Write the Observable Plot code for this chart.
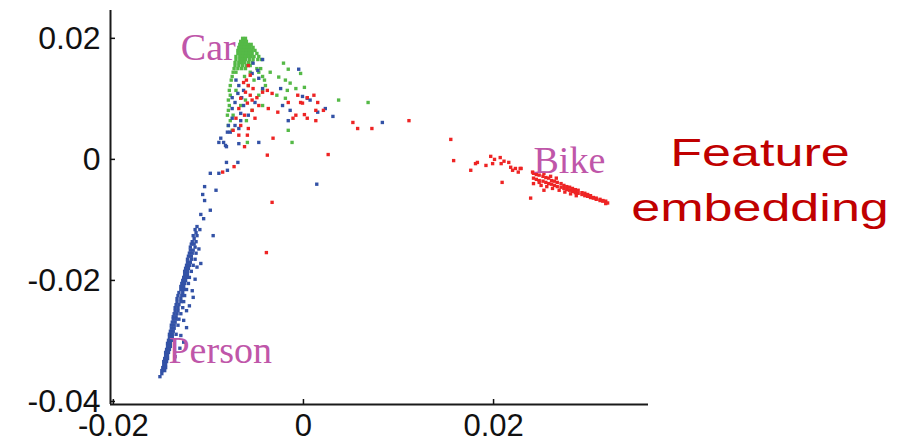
<!DOCTYPE html>
<html><head><meta charset="utf-8">
<script src="https://cdn.jsdelivr.net/npm/d3@7"></script>
<script src="https://cdn.jsdelivr.net/npm/@observablehq/plot@0.6"></script>
<style>
body{margin:0;background:#fff;}
#wrap{position:relative;width:909px;height:442px;}
#note{position:absolute;left:560px;width:400px;top:126px;text-align:center;font-family:"Liberation Sans",Arial,sans-serif;font-size:38px;line-height:55px;color:#c00000;transform:scaleX(1.37);transform-origin:center;z-index:2;}
</style></head><body>
<div id="wrap"><div id="note">Feature<br>embedding</div></div>
<script>
// All coordinates in units of 1e-3 (tick labels show the real values)
const xTicks = [-20, 0, 20];
const yTicks = [-40, -20, 0, 20];
const xDomain = [-20.3, 36.3];
const yDomain = [-40.5, 24.6];

const labelNames = ["Car", "Person", "Bike"];
const labelX = [-12.9, -14.2, 24.2];
const labelY = [16.5, -33.6, -2.3];

const carPts = [
[-6.4,20.0],[-6.1,20.0],
[-6.6,19.5],[-6.3,19.5],[-6.0,19.5],
[-6.7,19.0],[-6.4,19.0],[-6.1,19.0],[-5.8,19.0],[-5.5,19.0],
[-6.8,18.5],[-6.5,18.5],[-6.2,18.5],[-5.9,18.5],[-5.6,18.5],[-5.3,18.5],
[-6.9,18.0],[-6.6,18.0],[-6.3,18.0],[-6.0,18.0],[-5.7,18.0],[-5.4,18.0],[-5.1,18.0],
[-6.9,17.5],[-6.6,17.5],[-6.3,17.5],[-6.0,17.5],[-5.7,17.5],[-5.4,17.5],[-4.9,17.5],
[-7.1,17.0],[-6.7,17.0],[-6.4,17.0],[-6.1,17.0],[-5.8,17.0],[-5.5,17.0],[-5.2,17.0],[-4.7,17.0],
[-7.1,16.5],[-6.7,16.5],[-6.4,16.5],[-6.1,16.5],[-5.7,16.5],[-5.3,16.5],[-4.8,16.5],[-4.4,16.5],
[-7.2,16.0],[-6.8,16.0],[-6.5,16.0],[-6.2,16.0],[-5.8,16.0],[-5.4,16.0],
[-7.2,15.5],[-6.8,15.5],[-6.4,15.5],[-6.0,15.5],[-5.6,15.5],
[-7.3,15.0],[-6.9,15.0],[-6.5,15.0],[-6.1,15.0],[-4.9,15.0],[-4.5,15.0],
[-7.4,14.4],[-7.1,14.4],[-5.6,14.4],[-4.7,14.4],
[-7.5,13.7],[-6.2,13.7],[-4.3,13.7],
[-7.6,13.1],[-5.2,13.1],[-4.1,13.1],
[-7.7,12.2],[-5.8,12.2],
[-7.8,11.4],[-7.1,11.4],[-4.3,11.4],
[-7.7,10.6],[-4.7,10.6],
[-7.9,9.8],[-6.1,9.8],
[-7.8,8.9],[-6.6,8.9],[-4.3,8.9],
[-7.9,8.1],[-5.4,8.1],
[-8.0,7.3],[-7.4,7.3],
[-7.7,6.4],[-6.0,6.4],
[-7.9,5.6],[-7.5,4.8],
[-2.1,15.9],[-1.6,14.9],[-0.3,14.2],[-2.6,13.6],[-1.9,13.1],[-1.4,12.6],[-1.7,11.4],[-0.8,11.7],
[-1.9,10.1],[0.1,11.9],[-1.6,4.8],[-1.2,2.8],[-5.9,2.8],[3.7,9.8],[6.8,9.4],[-3.5,14.4],[-4.0,12.2],[-2.8,10.6]
];

const personPts = [
[-4.3,16.5],[-5.3,15.9],[-4.8,14.7],[-5.4,14.2],[-4.7,13.4],[-6.8,12.2],[-6.3,11.4],[-4.3,11.7],
[-6.9,10.9],[-7.5,10.2],[-7.2,9.4],[-6.3,8.9],[-5.1,9.4],[-7.5,8.4],[-6.6,7.6],[-5.8,7.3],
[-7.5,6.8],[-6.6,6.4],[-7.9,5.6],[-7.2,5.6],[-6.8,5.1],[-7.7,4.5],[-7.1,13.1],[-6.5,10.2],
[-0.5,14.9],[-2.4,11.7],[0.7,9.8],[-2.2,8.9],[-1.4,8.1],[-1.6,6.4],[1.5,7.8],[2.3,8.4],
[-0.1,10.4],[0.4,10.1],[3.1,7.1],[8.3,6.1],[1.4,-4.1],
[-8.7,3.5],[-8.2,2.3],[-6.8,2.6],[-4.7,2.8],[-8.0,4.5],[-8.9,2.8],[-8.4,2.8],[-8.1,2.1],
[-8.1,-0.5],[-6.9,-0.5],[-9.8,-2.3],[-8.9,-2.3],[-8.0,-1.8],[-10.4,-4.5],[-9.2,-5.1],
[-10.6,-5.8],[-10.4,-6.8],[-10.8,-9.1],[-9.8,-8.4],[-9.5,-12.6],[-10.8,-17.2],[-10.5,-9.8],
[-11.2,-11.1],
[-11.4,-11.6],[-10.9,-11.6],
[-11.3,-12.1],
[-11.6,-12.6],[-11.2,-12.6],
[-11.5,-13.1],
[-11.7,-13.6],[-11.3,-13.6],
[-11.8,-14.0],[-11.5,-14.0],
[-11.9,-14.5],[-11.4,-14.5],
[-11.9,-15.0],[-11.6,-15.0],
[-12.0,-15.5],[-11.7,-15.5],[-11.3,-15.5],
[-12.1,-16.0],[-11.8,-16.0],
[-12.2,-16.5],[-11.8,-16.5],[-11.4,-16.5],
[-12.2,-17.0],[-11.9,-17.0],
[-12.3,-17.5],[-12.0,-17.5],[-11.6,-17.5],
[-12.4,-18.0],[-12.1,-18.0],
[-12.5,-18.5],[-12.2,-18.5],[-11.8,-18.5],
[-12.5,-19.0],[-12.2,-19.0],
[-12.6,-19.5],[-12.3,-19.5],[-12.0,-19.5],
[-12.7,-20.0],[-12.4,-20.0],
[-12.8,-20.5],[-12.5,-20.5],[-12.1,-20.5],
[-12.9,-21.0],[-12.6,-21.0],
[-12.9,-21.5],[-12.6,-21.5],[-12.3,-21.5],
[-13.1,-22.0],[-12.7,-22.0],
[-13.2,-22.5],[-12.8,-22.5],[-12.5,-22.5],
[-13.3,-23.0],[-12.9,-23.0],
[-13.3,-23.5],[-12.9,-23.5],[-12.6,-23.5],
[-13.4,-24.0],[-13.1,-24.0],
[-13.5,-24.5],[-13.2,-24.5],[-12.7,-24.5],
[-13.5,-25.0],[-13.2,-25.0],
[-13.6,-25.5],[-13.3,-25.5],[-12.9,-25.5],
[-13.7,-26.0],[-13.4,-26.0],
[-13.7,-26.4],[-13.4,-26.4],[-13.1,-26.4],
[-13.8,-26.9],[-13.5,-26.9],
[-13.9,-27.4],[-13.6,-27.4],[-13.2,-27.4],
[-13.9,-27.9],[-13.6,-27.9],
[-14.0,-28.4],[-13.7,-28.4],
[-14.1,-28.9],[-13.8,-28.9],[-13.4,-28.9],
[-14.1,-29.4],[-13.8,-29.4],
[-14.2,-29.9],[-13.9,-29.9],
[-14.3,-30.4],[-14.0,-30.4],
[-14.3,-30.9],[-14.0,-30.9],
[-14.4,-31.4],[-14.1,-31.4],
[-14.5,-31.9],[-14.2,-31.9],
[-14.5,-32.4],[-14.3,-32.4],
[-14.6,-32.9],[-14.3,-32.9],
[-14.7,-33.4],[-14.4,-33.4],
[-14.7,-33.9],[-14.5,-33.9],
[-14.8,-34.4],[-14.5,-34.4],
[-14.9,-34.9],[-14.6,-34.9],
[-14.9,-35.4],[-15.1,-35.9],
[-11.7,-21.7],[-12.3,-25.0],[-12.6,-26.6],[-12.9,-29.1],
[-11.0,-14.8],[-11.2,-17.8],[-11.4,-19.8],[-11.6,-22.8],[-12.0,-24.2],[-12.3,-27.8],[-12.6,-30.2],[-13.0,-31.2],[-13.5,-32.6]
];

const bikePts = [
[-5.8,15.5],[-5.6,13.9],[-6.3,12.7],[-5.8,12.2],[-5.3,11.7],[-6.1,11.1],[-5.6,10.6],[-6.6,10.1],
[-4.9,10.2],[-5.9,9.3],[-6.8,8.4],[-5.4,8.1],[-6.2,7.3],[-7.1,6.8],[-5.1,6.8],[-6.6,5.6],
[-5.8,5.1],[-7.4,4.8],[-4.3,11.1],[-4.7,8.9],[-6.0,13.1],[-5.4,9.8],
[-3.8,11.4],[-3.3,10.9],[-0.6,10.6],[0.4,10.2],[1.5,9.4],[-1.6,9.4],[-0.3,9.4],[-3.7,8.4],
[-2.7,7.8],[-0.8,7.3],[-1.1,6.8],[0.4,6.8],[1.3,6.4],[-6.8,4.0],[-5.9,4.0],[1.1,10.6],
[1.3,8.1],[-3.2,3.5],[-3.8,0.7],[-8.5,-2.1],[-7.3,-1.2],[-3.3,-7.1],[-0.1,9.3],[0.1,7.4],
[2.1,8.1],[5.2,6.1],[5.7,5.1],[7.2,5.1],[11.1,6.4],[2.6,0.8],[-3.9,-15.4],[-6.2,2.1],
[15.5,3.3],[15.8,-0.2],[17.6,-1.8],[18.1,-0.7],[18.3,-0.5],[19.2,-1.0],[19.7,0.5],[19.9,-0.7],
[20.1,0.0],[20.7,0.3],[20.8,-0.7],[21.1,-0.3],[21.6,-0.5],[21.8,-1.3],[22.3,-1.5],[22.6,-2.1],
[22.9,-1.5],[22.0,-1.8],[20.9,-3.8],
[22.8,-1.5],[24.1,-2.1],[24.2,-4.0],[25.3,-5.1],[23.9,-6.4],
[24.2,-2.3],[24.2,-3.1],
[24.5,-2.5],[24.5,-3.3],
[24.8,-2.6],[24.8,-3.5],[24.8,-3.8],
[25.2,-2.8],[25.2,-3.6],
[25.5,-3.0],[25.5,-3.8],
[25.8,-3.1],[25.8,-4.0],
[26.1,-3.5],[26.1,-4.1],
[26.4,-3.6],[26.4,-4.3],
[26.7,-3.8],[26.7,-4.5],
[27.1,-4.0],[27.1,-4.6],
[27.4,-4.3],[27.4,-4.8],
[27.7,-4.5],[27.7,-5.0],
[28.0,-4.6],[28.0,-5.1],
[28.3,-4.8],[28.3,-5.3],
[28.6,-5.0],[28.6,-5.5],
[28.9,-5.1],[28.9,-5.6],
[29.3,-5.5],[29.3,-5.8],
[29.6,-5.6],[29.6,-6.0],
[29.9,-5.8],[29.9,-6.1],
[30.2,-6.0],[30.2,-6.3],
[30.5,-6.3],[30.5,-6.4],
[30.8,-6.4],[30.8,-6.6],
[31.2,-6.6],[31.2,-6.8],
[31.5,-6.8],[31.5,-6.9],
[31.8,-6.9],[31.8,-7.3],
[32.0,-7.2],
[25.0,-4.3],[25.6,-4.5],[26.2,-4.8],[26.9,-5.1],[27.5,-5.4],[28.1,-5.7],[28.7,-6.0],
[25.3,-2.3],[26.0,-2.8],[26.6,-3.1]
];

const fmt = d => d === 0 ? "0" : (d / 1000).toFixed(2);
const dotOpts = (color) => ({x: d => d[0], y: d => d[1], symbol: "square", r: 1.9, fill: color});

const chart = Plot.plot({
  width: 909, height: 442,
  marginLeft: 110, marginRight: 261, marginTop: 10, marginBottom: 38,
  x: {domain: xDomain},
  y: {domain: yDomain},
  style: {fontFamily: "'Liberation Sans', Arial, sans-serif", background: "white"},
  marks: [
    Plot.dot(carPts, dotOpts("#55b947")),
    Plot.dot(personPts, dotOpts("#3352a6")),
    Plot.dot(bikePts, dotOpts("#ee2424")),
    Plot.ruleX([xDomain[0]], {stroke: "#1a1a1a", strokeWidth: 2}),
    Plot.ruleY([yDomain[0]], {stroke: "#1a1a1a", strokeWidth: 2}),
    Plot.axisX(xTicks, {tickSize: -5, tickPadding: 14, tickFormat: fmt, fontSize: 31, color: "#111", strokeWidth: 1.5, label: null}),
    Plot.axisY(yTicks, {tickSize: -5, tickPadding: 15, tickFormat: fmt, fontSize: 32, color: "#111", strokeWidth: 1.5, label: null}),
    Plot.text(labelNames, {x: (d, i) => labelX[i], y: (d, i) => labelY[i], text: d => d,
      textAnchor: "start", lineAnchor: "bottom", fontSize: 38,
      fontFamily: "'Liberation Serif', 'Times New Roman', serif", fill: "#bf56a9"})
  ]
});
const wrap = document.getElementById("wrap");
wrap.insertBefore(chart, wrap.firstChild);
</script>
</body></html>
